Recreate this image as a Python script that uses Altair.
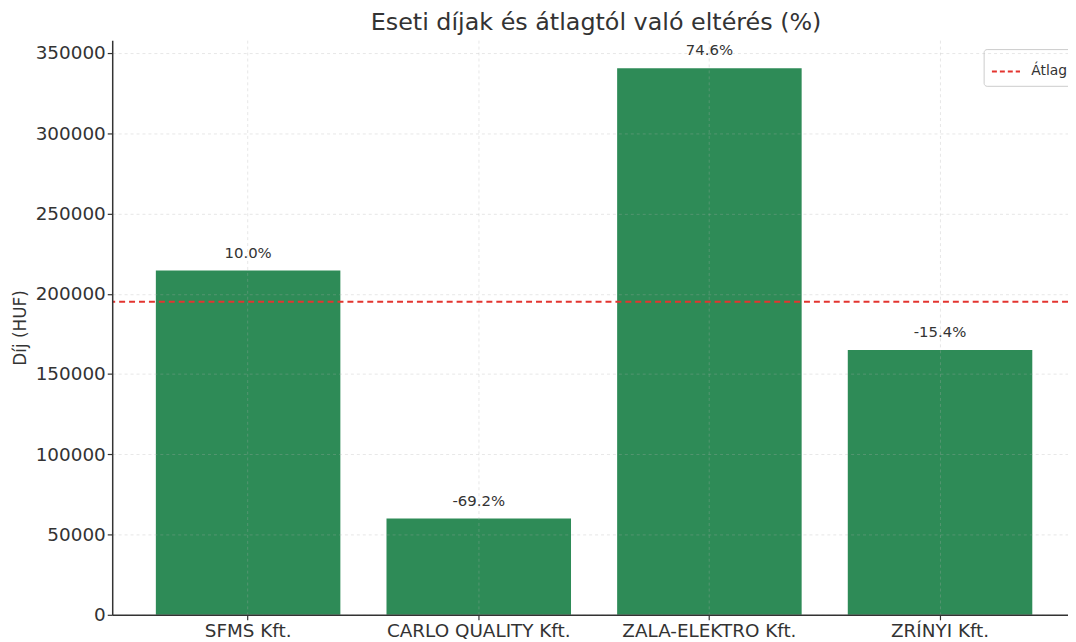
import altair as alt
import pandas as pd

companies = ["SFMS Kft.", "CARLO QUALITY Kft.", "ZALA-ELEKTRO Kft.", "ZRÍNYI Kft."]
fees = [214500, 60000, 340500, 165000]
avg_label = ["Átlag"]

mean_fee = sum(fees) / len(fees)
df = pd.DataFrame({
    "company": companies,
    "fee": fees,
    "pct": [f"{(f / mean_fee - 1) * 100:.1f}%" for f in fees],
})
avg_df = pd.DataFrame({"avg": [mean_fee], "name": avg_label})

FONT = "DejaVu Sans"

x_enc = alt.X(
    "company:N", sort=companies, title=None,
    scale=alt.Scale(paddingInner=0.2, paddingOuter=0.172, align=0.55),
    axis=alt.Axis(labelAngle=0, labelFontSize=18.5, labelColor="#333333",
                  labelLimit=400,
                  domainColor="#333333", domainWidth=1.5, tickColor="#333333",
                  tickSize=5, tickWidth=1.2, labelPadding=2,
                  grid=True, gridColor="#b0b0b0", gridOpacity=0.3,
                  gridDash=[3, 3], bandPosition=0.5, zindex=1),
)
y_scale = alt.Scale(domain=[0, 358000], nice=False)
y_axis = alt.Axis(values=[0, 50000, 100000, 150000, 200000, 250000, 300000, 350000],
                  format="d", labelFontSize=18.5, labelColor="#333333",
                  title="Díj (HUF)", titleFontSize=17, titleFontWeight="normal",
                  titleColor="#333333", titlePadding=6,
                  domainColor="#333333", domainWidth=1.5, tickColor="#333333",
                  tickSize=5, tickWidth=1.2, labelPadding=2,
                  grid=True, gridColor="#b0b0b0", gridOpacity=0.3,
                  gridDash=[3, 3], zindex=1)

bars = alt.Chart(df).mark_bar(color="#2e8b57").encode(
    x=x_enc,
    y=alt.Y("fee:Q", scale=y_scale, axis=y_axis),
)

labels = alt.Chart(df).mark_text(
    dy=-10, fontSize=15, color="#333333", baseline="bottom", font=FONT
).encode(
    x=alt.X("company:N", sort=companies),
    y=alt.Y("fee:Q", scale=y_scale),
    text="pct:N",
)

rule = alt.Chart(avg_df).mark_rule(strokeWidth=2, strokeDash=[6, 4]).encode(
    y=alt.Y("avg:Q", scale=y_scale),
    color=alt.Color("name:N", scale=alt.Scale(domain=avg_label, range=["#e3342f"]),
                    legend=alt.Legend(title=None, orient="none", legendX=878, legendY=9,
                                      symbolType="stroke", symbolDash=[5, 3],
                                      symbolStrokeWidth=2, symbolSize=800,
                                      labelFontSize=14, labelColor="#333333",
                                      labelOffset=10,
                                      strokeColor="#cccccc", fillColor="white",
                                      cornerRadius=3, padding=7)),
)

chart = alt.layer(bars, labels, rule).properties(
    width=963, height=579,
    title=alt.TitleParams("Eseti díjak és átlagtól való eltérés (%)", fontSize=24,
                          fontWeight="normal", color="#333333", offset=5, dx=6),
    autosize=alt.AutoSizeParams(type="none"),
    padding={"left": 105, "top": 30, "right": 0, "bottom": 25},
).configure(font=FONT).configure_view(stroke=None)

chart.save("out.html", embed_options={"renderer": "svg", "actions": False})
